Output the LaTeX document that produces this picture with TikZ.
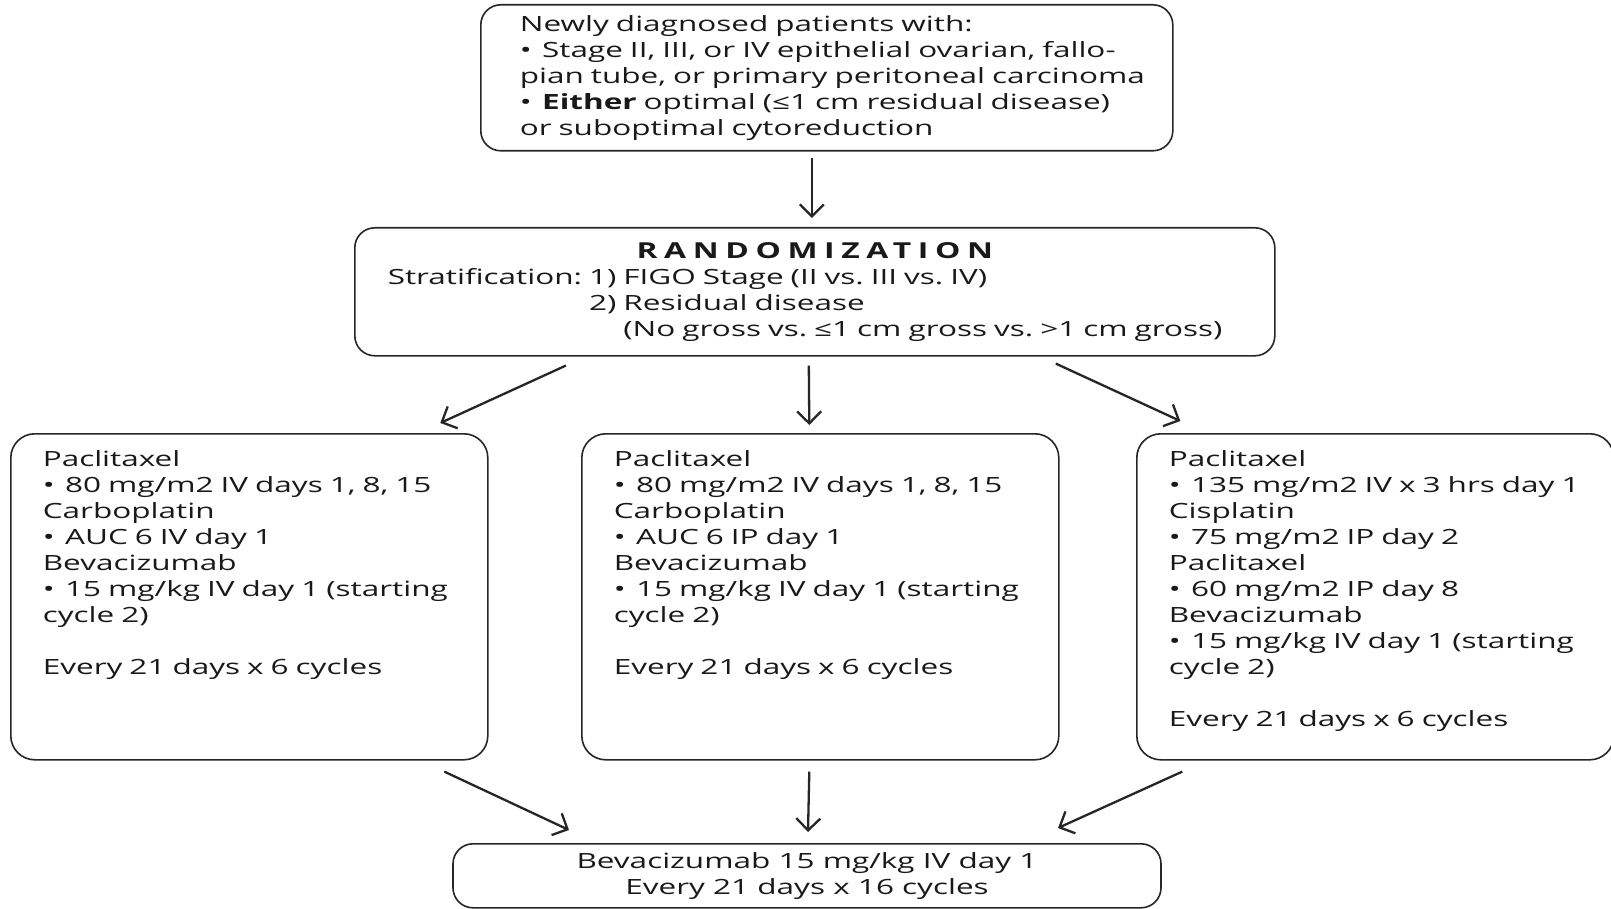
\documentclass[tikz,border=0pt]{standalone}
\usepackage{fontspec}
\setmainfont{Open Sans}[FakeStretch=1.5]
\newfontfamily\randfont{Open Sans}[FakeStretch=1.5]
\newfontfamily\titlefont{Open Sans}[FakeStretch=1.45,LetterSpace=30]
\usetikzlibrary{arrows.meta}
\frenchspacing

\begin{document}
\begin{tikzpicture}[
  x=1pt, y=-1pt,
  box/.style={rectangle, draw=black!85, line width=1.6pt, rounded corners=20pt,
              text=black!90, font=\fontsize{21}{26}\selectfont, align=left},
  topbox/.style={box, text width=614pt, inner xsep=39pt, inner ysep=0pt,
                 minimum height=146pt},
  randbox/.style={box, text width=854pt, inner xsep=33pt, inner ysep=0pt,
                  minimum height=128pt, font=\randfont\fontsize{21}{26}\selectfont},
  armbox/.style={box, rounded corners=24pt, text width=413pt, inner xsep=32pt,
                 inner ysep=18pt, text height=15pt, text depth=275pt},
  endbox/.style={box, align=center, minimum width=708pt, minimum height=64pt,
                 inner ysep=0pt},
  arr/.style={-{Straight Barb[length=12pt,width=24pt]}, line width=2.3pt, black!85},
]
  \useasboundingbox (0,0) rectangle (1611,909);

  % Eligibility at top
  \node[topbox, anchor=north west] (pts) at (480,4)
    {Newly diagnosed patients with:\\
     \mbox{•\enspace Stage II, III, or IV epithelial ovarian, fallo-}\\
     \mbox{pian tube, or primary peritoneal carcinoma}\\
     \mbox{•\enspace\textbf{Either} optimal (≤1 cm residual disease)}\\
     or suboptimal cytoreduction};

  % Randomization box
  \node[randbox, anchor=north west] (rand) at (354,227)
    {\makebox[\linewidth]{\titlefont\bfseries\fontsize{22}{26}\selectfont RANDOMIZATION}\\
     Stratification: 1) FIGO Stage (II vs. III vs. IV)\\
     \phantom{Stratification: }2) Residual disease\\
     \phantom{Stratification: 2) }(No gross vs. ≤1 cm gross vs. >1 cm gross)};

  % Three treatment arms
  \node[armbox, anchor=north west] (armA) at (10,433)
    {Paclitaxel\\
     •\enspace 80 mg/m2 IV days 1, 8, 15\\
     Carboplatin\\
     •\enspace AUC 6 IV day 1\\
     Bevacizumab\\
     \mbox{•\enspace 15 mg/kg IV day 1 (starting}\\
     cycle 2)\\[26pt]
     Every 21 days x 6 cycles};
  \node[armbox, anchor=north west] (armB) at (581,433)
    {Paclitaxel\\
     •\enspace 80 mg/m2 IV days 1, 8, 15\\
     Carboplatin\\
     •\enspace AUC 6 IP day 1\\
     Bevacizumab\\
     \mbox{•\enspace 15 mg/kg IV day 1 (starting}\\
     cycle 2)\\[26pt]
     Every 21 days x 6 cycles};
  \node[armbox, anchor=north west] (armC) at (1136,433)
    {Paclitaxel\\
     \mbox{•\enspace 135 mg/m2 IV x 3 hrs day 1}\\
     Cisplatin\\
     •\enspace 75 mg/m2 IP day 2\\
     Paclitaxel\\
     •\enspace 60 mg/m2 IP day 8\\
     Bevacizumab\\
     \mbox{•\enspace 15 mg/kg IV day 1 (starting}\\
     cycle 2)\\[26pt]
     Every 21 days x 6 cycles};

  % Maintenance at bottom
  \node[endbox, anchor=north] (bev) at (807,843)
    {Bevacizumab 15 mg/kg IV day 1\\ Every 21 days x 16 cycles};

  % Arrows: eligibility to randomization
  \draw[arr] ([xshift=-15pt,yshift=-6pt]pts.south) -- ([xshift=-3pt,yshift=9pt]rand.north);

  % Arrows: randomization to arms
  \draw[arr] ([xshift=-249pt,yshift=-9pt]rand.south) -- ([xshift=191pt,yshift=10pt]armA.north);
  \draw[arr] ([xshift=-6pt,yshift=-9pt]rand.south) -- ([xshift=-11pt,yshift=8pt]armB.north);
  \draw[arr] ([xshift=241pt,yshift=-7pt]rand.south) -- ([xshift=-195pt,yshift=12pt]armC.north);

  % Arrows: arms to maintenance
  \foreach \a/\sx/\ex/\ey in {armA/195/-238/13, armB/-11/1/11, armC/-193/251/15}
    \draw[arr] ([xshift=\sx pt,yshift=-11pt]\a.south) -- ([xshift=\ex pt,yshift=\ey pt]bev.north);
\end{tikzpicture}
\end{document}
